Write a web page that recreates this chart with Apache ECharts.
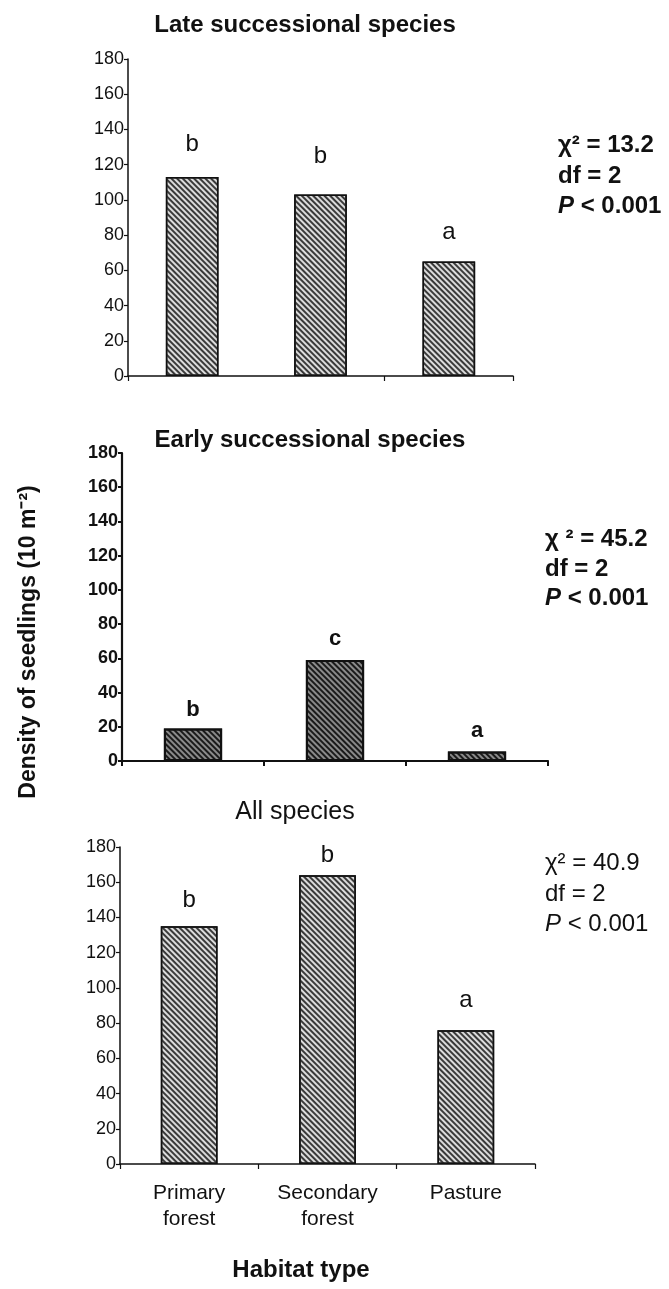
<!DOCTYPE html>
<html>
<head>
<meta charset="utf-8">
<script src="https://cdn.jsdelivr.net/npm/echarts@6/dist/echarts.min.js"></script>
<style>
html,body{margin:0;padding:0;background:#fff;}
#c{width:669px;height:1289px;}
</style>
</head>
<body>
<div id="c"></div>
<script>
// ---- data ----
const categories = ['Primary\nforest', 'Secondary\nforest', 'Pasture'];
const yTicks = [0, 20, 40, 60, 80, 100, 120, 140, 160, 180];
const lateValues = [113, 103, 65];
const earlyValues = [19, 59, 5.5];
const allValues = [135, 164, 76];
const lateLetters = ['b', 'b', 'a'];
const earlyLetters = ['b', 'c', 'a'];
const allLetters = ['b', 'b', 'a'];
const panelTitles = ['Late successional species', 'Early successional species', 'All species'];
const lateStats = ['χ² = 13.2', 'df = 2', 'P < 0.001'];
const earlyStats = ['χ ² = 45.2', 'df = 2', 'P < 0.001'];
const allStats = ['χ² = 40.9', 'df = 2', 'P < 0.001'];
const yTitle = 'Density of seedlings (10 m⁻²)';
const xTitle = 'Habitat type';

// ---- style ----
const FONT = '"Liberation Sans", Arial, sans-serif';
const lateLabelGap = [21, 26, 17];
const earlyLabelGap = [8, 10, 10];
const allLabelGap = [14, 8, 18];

const chart = echarts.init(document.getElementById('c'), null, {renderer: 'canvas'});

const grids = [
  {left: 128, width: 385, top: 59, height: 317},
  {left: 122, width: 426, top: 453, height: 308},
  {left: 120, width: 415, top: 847, height: 317}
];

function yAxis(i, bold) {
  return {
    type: 'value', gridIndex: i, min: yTicks[0], max: yTicks[yTicks.length - 1], interval: 20,
    splitLine: {show: false},
    axisLine: {show: true, lineStyle: {color: '#111', width: bold ? 2.2 : 1.5}},
    axisTick: {show: true, length: 4, lineStyle: {color: '#111', width: bold ? 2 : 1.2}},
    axisLabel: {fontFamily: FONT, fontSize: 18, color: '#111', margin: 4, fontWeight: bold ? 'bold' : 'normal'}
  };
}
function xAxis(i, bold, showLabels) {
  return {
    type: 'category', gridIndex: i, data: categories,
    axisLine: {show: true, lineStyle: {color: '#111', width: bold ? 2.2 : 1.5}},
    axisTick: {show: true, length: 5, alignWithLabel: false, lineStyle: {color: '#111', width: bold ? 2 : 1.2}},
    axisLabel: {show: showLabels, fontFamily: FONT, fontSize: 21, color: '#111', margin: 16, lineHeight: 26}
  };
}

const lightDecal = {symbol: 'rect', symbolSize: 1, color: '#3a3a3a', dashArrayX: [1, 0], dashArrayY: [1.3, 1.9], rotation: Math.PI / 4};
const darkDecal = {symbol: 'rect', symbolSize: 1, color: '#1a1a1a', dashArrayX: [1, 0], dashArrayY: [2.0, 1.2], rotation: Math.PI / 4};

function barSeries(i, values, letters, gaps, dark) {
  return {
    type: 'bar', xAxisIndex: i, yAxisIndex: i, barWidth: '41%',
    data: values.map((v, k) => ({
      value: v,
      label: {show: true, position: 'top', distance: gaps[k], formatter: letters[k]}
    })),
    itemStyle: {
      color: dark ? '#8a8a8a' : '#dcdcdc',
      borderColor: '#111', borderWidth: dark ? 2 : 1.5,
      decal: dark ? darkDecal : lightDecal
    },
    label: {fontFamily: FONT, fontSize: dark ? 22 : 24, fontWeight: dark ? 'bold' : 'normal', color: '#111'},
    emphasis: {disabled: true},
    animation: false
  };
}

function txt(x, y, text, size, weight, align) {
  return {type: 'text', x: x, y: y, style: {text: text, fontFamily: FONT, fontSize: size, fontWeight: weight, fill: '#111', textAlign: align || 'left', textVerticalAlign: 'middle'}};
}
function statLines(x, ys, lines, weight) {
  return lines.map((l, k) => {
    if (l.startsWith('P')) {
      return {type: 'text', x: x, y: ys[k], style: {
        text: '{i|P}{n| ' + l.slice(1).trim() + '}', textVerticalAlign: 'middle',
        rich: {i: {fontFamily: FONT, fontSize: 24, fontWeight: weight, fontStyle: 'italic', fill: '#111'},
               n: {fontFamily: FONT, fontSize: 24, fontWeight: weight, fill: '#111'}}}};
    }
    return txt(x, ys[k], l, 24, weight);
  });
}

const graphics = [
  txt(305, 25, panelTitles[0], 24, 'bold', 'center'),
  txt(310, 440, panelTitles[1], 24, 'bold', 'center'),
  txt(295, 812, panelTitles[2], 25, 'normal', 'center'),
  txt(301, 1270, xTitle, 24, 'bold', 'center'),
  {type: 'text', x: 29, y: 642, rotation: Math.PI / 2,
   style: {text: yTitle, fontFamily: FONT, fontSize: 23, fontWeight: 'bold', fill: '#111', textAlign: 'center', textVerticalAlign: 'middle'}}
].concat(
  statLines(558, [145, 176, 206], lateStats, 'bold'),
  statLines(545, [539, 569, 598], earlyStats, 'bold'),
  statLines(545, [863, 894, 924], allStats, 'normal')
);

chart.setOption({
  animation: false,
  backgroundColor: '#fff',
  grid: grids,
  xAxis: [xAxis(0, false, false), xAxis(1, true, false), xAxis(2, false, true)],
  yAxis: [yAxis(0, false), yAxis(1, true), yAxis(2, false)],
  series: [
    barSeries(0, lateValues, lateLetters, lateLabelGap, false),
    barSeries(1, earlyValues, earlyLetters, earlyLabelGap, true),
    barSeries(2, allValues, allLetters, allLabelGap, false)
  ],
  graphic: graphics
});
</script>
</body>
</html>
